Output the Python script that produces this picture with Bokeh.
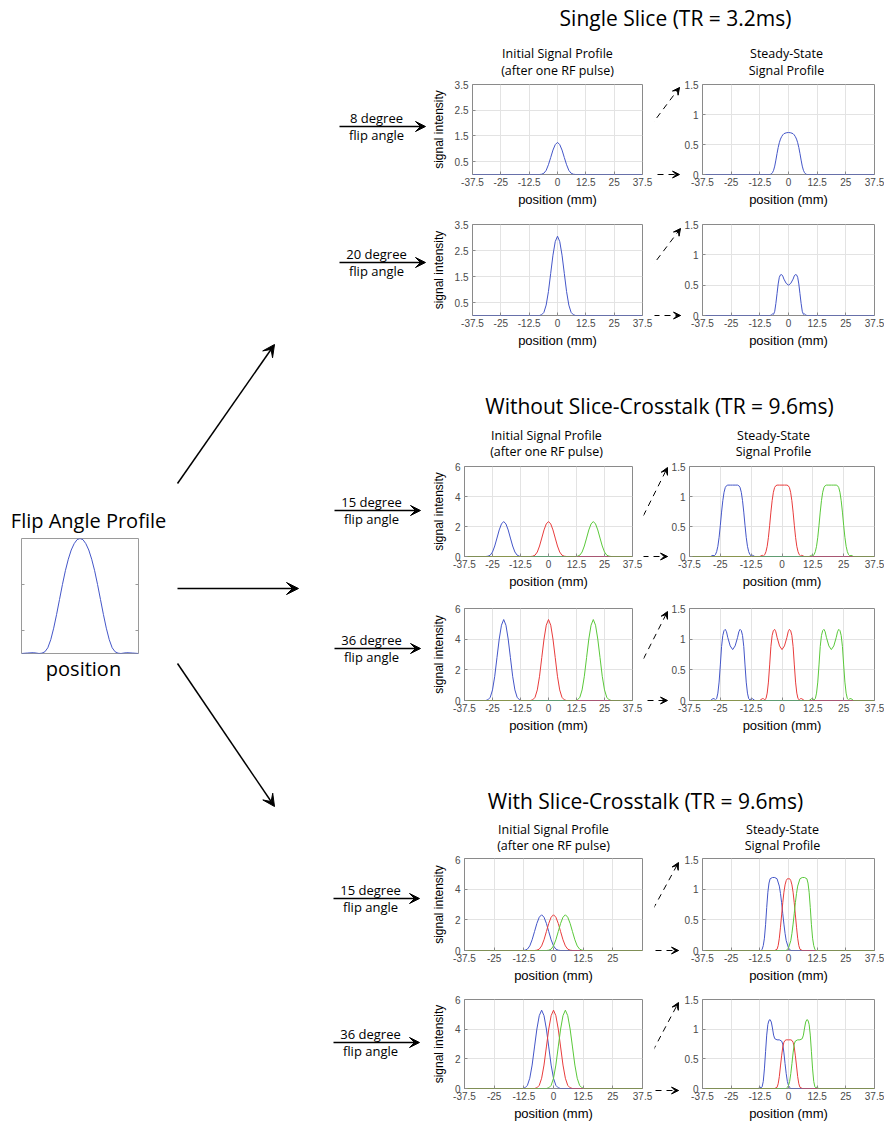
import math
from bokeh.plotting import figure
from bokeh.layouts import row, column
from bokeh.models import Range1d, Arrow, VeeHead, FixedTicker, CustomJSTickFormatter
from bokeh.core.properties import value
from bokeh.embed import file_html
from bokeh.resources import INLINE

HUM = "Open Sans"
SANS = "Liberation Sans"
BLUE, RED, GREEN = "#4456c8", "#e83c3c", "#5ac83a"

# ---------------- data ----------------
POS_RANGE = (-37.5, 37.5)
X_TICKS = [-37.5, -25, -12.5, 0, 12.5, 25, 37.5]
X_TICKS_NO_END = [-37.5, -25, -12.5, 0, 12.5, 25]

# flip angle profile (normalised position, normalised flip angle)
prof_x = [-1, -0.9, -0.8, -0.75, -0.7, -0.65, -0.6, -0.55, -0.5, -0.45, -0.4, -0.35, -0.3, -0.25, -0.2,
          -0.15, -0.1, -0.05, 0, 0.05, 0.1, 0.15, 0.2, 0.25, 0.3, 0.35, 0.4, 0.45, 0.5, 0.55, 0.6, 0.65,
          0.7, 0.75, 0.8, 0.9, 1]
prof_y = [0, 0.004, 0.007, 0.004, 0.0, 0.003, 0.015, 0.05, 0.12, 0.22, 0.34, 0.47, 0.6, 0.72, 0.82,
          0.9, 0.955, 0.99, 1.0, 0.99, 0.955, 0.9, 0.82, 0.72, 0.6, 0.47, 0.34, 0.22, 0.12, 0.05, 0.015,
          0.003, 0.0, 0.004, 0.007, 0.004, 0]
prof_ticks = [0.2, 0.6]

# initial signal profiles (offset from slice centre, mm)
init_dx = [-8, -7, -6, -5, -4, -3, -2, -1, 0, 1, 2, 3, 4, 5, 6, 7, 8]
init_8deg = [0, 0.01, 0.05, 0.16, 0.38, 0.66, 0.95, 1.16, 1.25, 1.16, 0.95, 0.66, 0.38, 0.16, 0.05, 0.01, 0]
init_20deg = [0, 0.03, 0.12, 0.40, 0.92, 1.62, 2.32, 2.84, 3.05, 2.84, 2.32, 1.62, 0.92, 0.40, 0.12, 0.03, 0]
init_15deg = [0, 0.02, 0.09, 0.30, 0.70, 1.23, 1.77, 2.17, 2.33, 2.17, 1.77, 1.23, 0.70, 0.30, 0.09, 0.02, 0]
init_36deg = [0, 0.05, 0.21, 0.69, 1.58, 2.80, 4.01, 4.91, 5.28, 4.91, 4.01, 2.80, 1.58, 0.69, 0.21, 0.05, 0]

# steady-state signal profiles (offset from slice centre, mm)
ss_dx = [-9, -8, -7.5, -7, -6.5, -6, -5.5, -5, -4.5, -4, -3.5, -3, -2.5, -2, -1, 0,
         1, 2, 2.5, 3, 3.5, 4, 4.5, 5, 5.5, 6, 6.5, 7, 7.5, 8, 9]
ss_8deg = [0, 0, 0.01, 0.03, 0.07, 0.14, 0.24, 0.35, 0.45, 0.53, 0.59, 0.63, 0.66, 0.68, 0.695, 0.7,
           0.695, 0.68, 0.66, 0.63, 0.59, 0.53, 0.45, 0.35, 0.24, 0.14, 0.07, 0.03, 0.01, 0, 0]
ss_20deg = [0, 0, 0.01, 0.025, 0.02, 0.07, 0.2, 0.36, 0.52, 0.63, 0.67, 0.675, 0.65, 0.6, 0.53, 0.5,
            0.53, 0.6, 0.65, 0.675, 0.67, 0.63, 0.52, 0.36, 0.2, 0.07, 0.02, 0.025, 0.01, 0, 0]
ss_15deg = [0, 0.02, 0.01, 0.03, 0.08, 0.17, 0.32, 0.52, 0.74, 0.93, 1.07, 1.15, 1.18, 1.19, 1.19, 1.19,
            1.19, 1.19, 1.18, 1.15, 1.07, 0.93, 0.74, 0.52, 0.32, 0.17, 0.08, 0.03, 0.01, 0.02, 0]
ss_36deg = [0, 0.03, 0.03, 0.01, 0.03, 0.12, 0.3, 0.58, 0.88, 1.06, 1.14, 1.16, 1.12, 1.03, 0.89, 0.83,
            0.89, 1.03, 1.12, 1.16, 1.14, 1.06, 0.88, 0.58, 0.3, 0.12, 0.03, 0.01, 0.03, 0.03, 0]

centers_no_crosstalk = [-20, 0, 20]
centers_crosstalk = [-5, 0, 5]

# steady-state with slice crosstalk (absolute position, mm)
xt15_blue_x = [-14, -12, -11.5, -11, -10.5, -10, -9.5, -9, -8.5, -8, -7, -6, -5, -4, -3.5, -3, -2.5,
               -2, -1.5, -1, 0, 1]
xt15_blue_y = [0, 0, 0.02, 0.08, 0.2, 0.42, 0.7, 0.95, 1.1, 1.17, 1.19, 1.19, 1.17, 1.05, 0.93, 0.78,
               0.6, 0.43, 0.28, 0.16, 0.04, 0]
xt15_red_x = [-6, -5, -4.5, -4, -3.5, -3, -2.5, -2, -1.5, -1, -0.5, 0, 0.5, 1, 1.5, 2, 2.5, 3, 3.5,
              4, 4.5, 5, 6]
xt15_red_y = [0, 0.02, 0.08, 0.2, 0.38, 0.58, 0.78, 0.95, 1.07, 1.14, 1.17, 1.17, 1.17, 1.14, 1.07,
              0.95, 0.78, 0.58, 0.38, 0.2, 0.08, 0.02, 0]
xt15_green_x = [-1, 0, 1, 1.5, 2, 2.5, 3, 3.5, 4, 5, 6, 7, 8, 8.5, 9, 9.5, 10, 10.5, 11, 11.5, 12, 14]
xt15_green_y = [0, 0.04, 0.16, 0.28, 0.43, 0.6, 0.78, 0.93, 1.05, 1.17, 1.19, 1.19, 1.17, 1.1, 0.95,
                0.7, 0.42, 0.2, 0.08, 0.02, 0, 0]

xt36_blue_x = [-14, -13, -12.5, -12, -11.5, -11, -10.5, -10, -9.5, -9, -8.5, -8, -7.5, -7, -6.5, -6,
               -5, -4, -3, -2.5, -2, -1.5, -1, -0.5, 0, 0.5, 1]
xt36_blue_y = [0, 0, 0.03, 0.01, 0.03, 0.12, 0.33, 0.62, 0.9, 1.08, 1.15, 1.16, 1.12, 1.02, 0.9, 0.84,
               0.82, 0.82, 0.8, 0.75, 0.6, 0.42, 0.25, 0.12, 0.05, 0.02, 0]
xt36_red_x = [-6, -5, -4.5, -4, -3.5, -3, -2.5, -2, -1.5, -1, 0, 1, 1.5, 2, 2.5, 3, 3.5, 4, 4.5, 5, 6]
xt36_red_y = [0, 0.02, 0.08, 0.2, 0.38, 0.55, 0.7, 0.78, 0.81, 0.82, 0.82, 0.82, 0.81, 0.78, 0.7,
              0.55, 0.38, 0.2, 0.08, 0.02, 0]
xt36_green_x = [-1, -0.5, 0, 0.5, 1, 1.5, 2, 2.5, 3, 4, 5, 6, 6.5, 7, 7.5, 8, 8.5, 9, 9.5, 10, 10.5,
                11, 11.5, 12, 12.5, 13, 14]
xt36_green_y = [0, 0.02, 0.05, 0.12, 0.25, 0.42, 0.6, 0.75, 0.8, 0.82, 0.82, 0.84, 0.9, 1.02, 1.12,
                1.16, 1.15, 1.08, 0.9, 0.62, 0.33, 0.12, 0.03, 0.01, 0.03, 0, 0]


# ---------------- helpers ----------------
def full_line(xs, ys):
    return [POS_RANGE[0]] + list(xs) + [POS_RANGE[1]], [0] + list(ys) + [0]


def shifted(dx, c):
    return [c + d for d in dx]


def canvas(x0, x1, y0, y1):
    p = figure(width=x1 - x0, height=y1 - y0, x_range=Range1d(x0, x1), y_range=Range1d(y1, y0),
               x_axis_type=None, y_axis_type=None, output_backend="svg", toolbar_location=None,
               min_border=0, title=None, frame_align=False)
    p.outline_line_color = None
    return p


def txt(p, x, y, s, size, font=HUM):
    p.text(x=[x], y=[y], text=[s], text_font=value(font), text_font_size=value(size),
           text_align="center", text_baseline="middle", text_color="black")


def arrow(p, x0, y0, x1, y1, size, lw):
    p.add_layout(Arrow(end=VeeHead(size=size, fill_color="black", line_color="black", line_width=1),
                       x_start=x0, y_start=y0, x_end=x1, y_end=y1,
                       line_color="black", line_width=lw))


def dashed_arrow(p, x0, y0, x1, y1):
    p.segment(x0=[x0], y0=[y0], x1=[x1], y1=[y1], line_color="black", line_width=1, line_dash="6 5")
    p.add_layout(Arrow(end=VeeHead(size=7, fill_color="black", line_color="black", line_width=1),
                       x_start=x0, y_start=y0, x_end=x1, y_end=y1, line_alpha=0))


def panel(x0, x1, y0, y1, fl, fr, ft, fb, yr, yticks, xticks=X_TICKS, ylabel=None):
    p = figure(width=x1 - x0, height=y1 - y0, x_range=Range1d(*POS_RANGE), y_range=Range1d(*yr),
               output_backend="svg", toolbar_location=None, title=None, frame_align=False,
               min_border_left=fl - x0, min_border_right=x1 - fr,
               min_border_top=ft - y0, min_border_bottom=y1 - fb)
    p.outline_line_color = "#8a8a8a"
    xt = FixedTicker(ticks=xticks)
    yt = FixedTicker(ticks=yticks)
    p.xaxis.ticker = xt
    p.yaxis.ticker = yt
    p.xgrid.ticker = xt
    p.ygrid.ticker = yt
    p.grid.grid_line_color = "#e3e3e3"
    for ax in (p.xaxis[0], p.yaxis[0]):
        ax.formatter = CustomJSTickFormatter(code="return String(tick);")
        ax.axis_line_color = None
        ax.major_tick_in = 3
        ax.major_tick_out = 0
        ax.minor_tick_line_color = None
        ax.major_tick_line_color = "#8a8a8a"
        ax.major_label_text_font = SANS
        ax.major_label_text_font_size = "10px"
        ax.major_label_text_color = "#4a4a4a"
        ax.axis_label_text_font = SANS
        ax.axis_label_text_font_style = "normal"
        ax.axis_label_text_color = "black"
    p.xaxis.axis_label = "position (mm)"
    p.xaxis.axis_label_text_font_size = "13px"
    p.xaxis.axis_label_standoff = 3
    p.xaxis.major_label_standoff = 3
    p.yaxis.major_label_standoff = 4
    if ylabel:
        p.yaxis.axis_label = ylabel
        p.yaxis.axis_label_text_font_size = "12px"
        p.yaxis.axis_label_standoff = 6
    return p


def add(p, xs, ys, color):
    fx, fy = full_line(xs, ys)
    p.line(fx, fy, line_color=color, line_width=1)


# ---------------- left: flip angle profile ----------------
lt = canvas(0, 170, 0, 536)
txt(lt, 88, 520, "Flip Angle Profile", "20px")

pf = figure(width=170, height=119, x_range=Range1d(-1, 1), y_range=Range1d(0, 1),
            x_axis_type=None, y_axis_type=None, output_backend="svg", toolbar_location=None, title=None,
            frame_align=False,
            min_border_left=21, min_border_right=32, min_border_top=2, min_border_bottom=2)
pf.outline_line_color = "#9a9a9a"
pf.ray(x=[-1] * len(prof_ticks), y=prof_ticks, length=3, length_units="screen", angle=0,
       line_color="#9a9a9a", line_width=1)
pf.ray(x=[1] * len(prof_ticks), y=prof_ticks, length=3, length_units="screen", angle=math.pi,
       line_color="#9a9a9a", line_width=1)
pf.line(prof_x, prof_y, line_color=BLUE, line_width=1)

lb = canvas(0, 170, 655, 700)
txt(lb, 83, 668, "position", "20px")

left_col = column(lt, pf, lb)

# ---------------- middle: arrows and flip angle labels ----------------
ac = canvas(170, 428, 0, 1123)
arrow(ac, 177, 483, 274, 344, 12, 1.5)
arrow(ac, 177, 588, 298, 588, 12, 1.5)
arrow(ac, 177, 663, 274, 806, 12, 1.5)
flip_labels = [("8 degree", 339, 425, 126, 376), ("20 degree", 339, 425, 262, 376),
               ("15 degree", 334, 420, 510, 371), ("36 degree", 334, 420, 648, 371),
               ("15 degree", 333, 419, 898, 370), ("36 degree", 333, 419, 1042, 370)]
for lab, xa, xb, ya, xc in flip_labels:
    arrow(ac, xa, ya, xb, ya, 10, 1.5)
    txt(ac, xc, ya - 9, lab, "13px")
    txt(ac, xc, ya + 8, "flip angle", "13px")


# ---------------- right: groups ----------------
def header(y0, y1, title, tx, ty, ix, sx, sy1, sy2):
    h = canvas(428, 884, y0, y1)
    txt(h, tx, ty, title, "21px")
    txt(h, ix, sy1, "Initial Signal Profile", "12.5px")
    txt(h, ix, sy2, "(after one RF pulse)", "12.5px")
    txt(h, sx, sy1, "Steady-State", "12.5px")
    txt(h, sx, sy2, "Signal Profile", "12.5px")
    return h


def gap(x0, x1, y0, y1, up, low):
    g = canvas(x0, x1, y0, y1)
    dashed_arrow(g, *up)
    dashed_arrow(g, *low)
    return g


colors = [BLUE, RED, GREEN]

# Group 1: single slice
h1 = header(0, 80, "Single Slice (TR = 3.2ms)", 675, 17, 557, 786, 53, 70)

i11 = panel(428, 654, 80, 212, 469, 642, 84, 174, (0, 3.5), [0.5, 1.5, 2.5, 3.5], ylabel="signal intensity")
add(i11, init_dx, init_8deg, BLUE)
g11 = gap(654, 681, 80, 212, (643, 135, 679, 87), (657, 174, 679, 174))
s11 = panel(681, 884, 80, 212, 698, 874, 84, 174, (0, 1.5), [0, 0.5, 1, 1.5])
add(s11, ss_dx, ss_8deg, BLUE)

i12 = panel(428, 654, 212, 352, 470, 642, 224, 315, (0, 3.5), [0.5, 1.5, 2.5, 3.5], ylabel="signal intensity")
add(i12, init_dx, init_20deg, BLUE)
g12 = gap(654, 681, 212, 352, (643, 277, 680, 228), (653, 315, 680, 315))
s12 = panel(681, 884, 212, 352, 698, 874, 224, 315, (0, 1.5), [0, 0.5, 1, 1.5])
add(s12, ss_dx, ss_20deg, BLUE)

# Group 2: without crosstalk
h2 = header(352, 462, "Without Slice-Crosstalk (TR = 9.6ms)", 659, 405, 546, 773, 435, 451)

i21 = panel(428, 643, 462, 598, 456, 632, 466, 556, (0, 6), [0, 2, 4, 6], ylabel="signal intensity")
s21 = panel(668, 884, 462, 598, 689, 874, 466, 556, (0, 1.5), [0, 0.5, 1, 1.5])
i22 = panel(428, 643, 598, 737, 456, 632, 608, 700, (0, 6), [0, 2, 4, 6], ylabel="signal intensity")
s22 = panel(668, 884, 598, 737, 689, 874, 608, 700, (0, 1.5), [0, 0.5, 1, 1.5])
for c, col in zip(centers_no_crosstalk, colors):
    add(i21, shifted(init_dx, c), init_15deg, col)
    add(s21, shifted(ss_dx, c), ss_15deg, col)
    add(i22, shifted(init_dx, c), init_36deg, col)
    add(s22, shifted(ss_dx, c), ss_36deg, col)
g21 = gap(643, 668, 462, 598, (633, 535, 667, 467), (642, 556, 667, 556))
g22 = gap(643, 668, 598, 737, (633, 678, 667, 611), (647, 700, 667, 700))

# Group 3: with crosstalk
h3 = header(737, 855, "With Slice-Crosstalk (TR = 9.6ms)", 645, 800, 553, 782, 829, 845)

i31 = panel(428, 654, 855, 989, 463, 642, 858, 950, (0, 6), [0, 2, 4, 6], xticks=X_TICKS_NO_END,
            ylabel="signal intensity")
s31 = panel(681, 884, 855, 989, 697, 874, 858, 950, (0, 1.5), [0, 0.5, 1, 1.5])
i32 = panel(428, 654, 989, 1123, 463, 642, 999, 1090, (0, 6), [0, 2, 4, 6], ylabel="signal intensity")
s32 = panel(681, 884, 989, 1123, 697, 874, 999, 1090, (0, 1.5), [0, 0.5, 1, 1.5])
for c, col in zip(centers_crosstalk, colors):
    add(i31, shifted(init_dx, c), init_15deg, col)
    add(i32, shifted(init_dx, c), init_36deg, col)
add(s31, xt15_blue_x, xt15_blue_y, BLUE)
add(s31, xt15_red_x, xt15_red_y, RED)
add(s31, xt15_green_x, xt15_green_y, GREEN)
add(s32, xt36_blue_x, xt36_blue_y, BLUE)
add(s32, xt36_red_x, xt36_red_y, RED)
add(s32, xt36_green_x, xt36_green_y, GREEN)
g31 = gap(654, 681, 855, 989, (642, 928, 678, 862), (655, 950, 678, 950))
g32 = gap(654, 681, 989, 1123, (642, 1070, 678, 1002), (655, 1090, 678, 1090))

right_col = column(h1, row(i11, g11, s11), row(i12, g12, s12),
                   h2, row(i21, g21, s21), row(i22, g22, s22),
                   h3, row(i31, g31, s31), row(i32, g32, s32))

layout = row(left_col, ac, right_col)

open("out.html", "w").write(file_html(layout, INLINE))
